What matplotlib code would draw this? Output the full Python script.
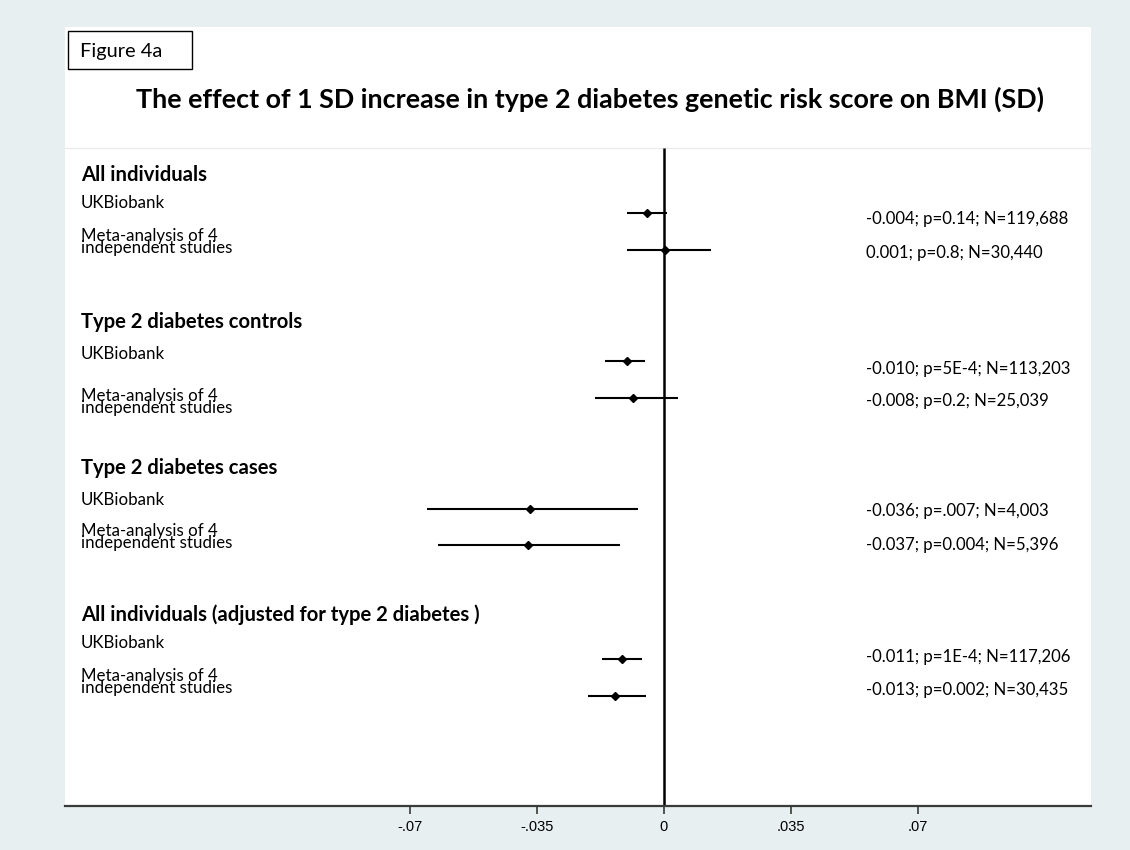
import numpy as np
import matplotlib
matplotlib.use('Agg')
import matplotlib.pyplot as plt
from matplotlib.patches import Rectangle
from matplotlib.transforms import blended_transform_factory

# --- data ---
groups = ["All individuals", "Type 2 diabetes controls", "Type 2 diabetes cases",
          "All individuals (adjusted for type 2 diabetes )"]
ukb_est = [-0.0047, -0.0102, -0.0369, -0.0116]
ukb_lo = [-0.0102, -0.0163, -0.0653, -0.0171]
ukb_hi = [0.0008, -0.0052, -0.0072, -0.0061]
meta_est = [0.0003, -0.0085, -0.0375, -0.0135]
meta_lo = [-0.0102, -0.0190, -0.0623, -0.0209]
meta_hi = [0.0130, 0.0039, -0.0121, -0.0050]
ukb_txt = ["-0.004; p=0.14; N=119,688", "-0.010; p=5E-4; N=113,203",
           "-0.036; p=.007; N=4,003", "-0.011; p=1E-4; N=117,206"]
meta_txt = ["0.001; p=0.8; N=30,440", "-0.008; p=0.2; N=25,039",
            "-0.037; p=0.004; N=5,396", "-0.013; p=0.002; N=30,435"]
xticks = [-0.07, -0.035, 0, 0.035, 0.07]
xtick_labels = ["-.07", "-.035", "0", ".035", ".07"]

# --- layout (pixel rows of the 1130x850 canvas) ---
W, H = 1130, 850
header_y = [175, 322, 468, 615]
ukb_label_y = [203, 354, 500, 643]
meta_label_y = [242, 402, 537, 682]
ukb_pt_y = [213, 361, 509, 659]
meta_pt_y = [250, 398, 545, 696]
ukb_txt_y = [219, 369, 511, 657]
meta_txt_y = [253, 401, 545, 690]

FONT = "Lato"
BG = "#e7eff1"

fig = plt.figure(figsize=(W / 100, H / 100), dpi=100, facecolor=BG)
left, right, top, bottom = 65, 1091, 27, 806
ax = fig.add_axes([left / W, 1 - bottom / H, (right - left) / W, (bottom - top) / H])
ax.set_facecolor("white")

# x scale: 0 at pixel 664, .035 per 127 px
px = 0.035 / 127
ax.set_xlim((left - 664) * px, (right - 664) * px)
ax.set_ylim(bottom, top)

for s in ["top", "left", "right"]:
    ax.spines[s].set_visible(False)
ax.spines["bottom"].set_linewidth(1.6)
ax.spines["bottom"].set_color("#3a3a3a")
ax.set_yticks([])
ax.set_xticks(xticks, xtick_labels)
ax.tick_params(axis="x", length=6, width=1.2, color="#3a3a3a", pad=4)
for lab in ax.get_xticklabels():
    lab.set_fontfamily("Liberation Sans")
    lab.set_fontsize(10.5)

# faint separator and zero line
ax.axhline(148, color="#ebebeb", lw=1)
ax.vlines(0, 148, bottom, color="black", lw=1.8)

# confidence intervals and point estimates
ax.hlines(ukb_pt_y, ukb_lo, ukb_hi, color="black", lw=1.5)
ax.hlines(meta_pt_y, meta_lo, meta_hi, color="black", lw=1.5)
ax.plot(ukb_est, ukb_pt_y, "D", color="black", ms=4.5)
ax.plot(meta_est, meta_pt_y, "D", color="black", ms=4.5)

# text
lt = blended_transform_factory(fig.transFigure, ax.transData)
for i, g in enumerate(groups):
    ax.text(81 / W, header_y[i], g, transform=lt, fontfamily=FONT, fontweight="bold",
            fontsize=14.6, va="center", ha="left")
    ax.text(81 / W, ukb_label_y[i], "UKBiobank", transform=lt, fontfamily=FONT,
            fontsize=12.2, va="center", ha="left")
    ax.text(81 / W, meta_label_y[i], "Meta-analysis of 4\nindependent studies", transform=lt,
            fontfamily=FONT, fontsize=12.2, va="center", ha="left", linespacing=0.75)
    ax.text(866 / W, ukb_txt_y[i], ukb_txt[i], transform=lt, fontfamily=FONT,
            fontsize=12.1, va="center", ha="left")
    ax.text(866 / W, meta_txt_y[i], meta_txt[i], transform=lt, fontfamily=FONT,
            fontsize=12.1, va="center", ha="left")

fig.text(590 / W, 1 - 99 / H,
         "The effect of 1 SD increase in type 2 diabetes genetic risk score on BMI (SD)",
         fontfamily=FONT, fontweight="bold", fontsize=19.4, ha="center", va="center")

fig.add_artist(Rectangle((68 / W, 1 - 69 / H), 124 / W, 38 / H, transform=fig.transFigure,
                         fill=True, facecolor="white", edgecolor="black", lw=1))
fig.text(80 / W, 1 - 51 / H, "Figure 4a", fontfamily=FONT, fontsize=14.4,
         ha="left", va="center")

fig.savefig("out.png", dpi=100, facecolor=BG)
